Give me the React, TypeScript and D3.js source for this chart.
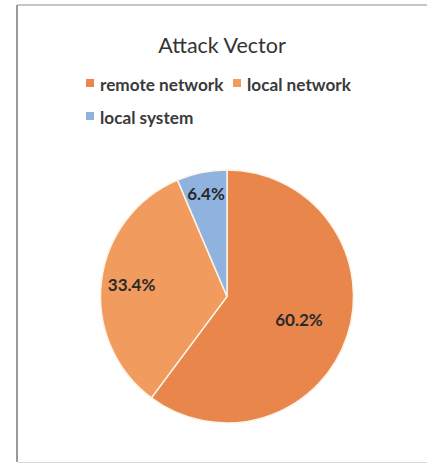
import React from "react";
import * as d3 from "d3";

const categories = ["remote network", "local network", "local system"];
const values = [60.2, 33.4, 6.4];
const labels = ["60.2%", "33.4%", "6.4%"];
const colors = ["#E8864C", "#F29B5E", "#8FB3DE"];

const W = 427;
const H = 465;
const cx = 227;
const cy = 296.5;
const R = 126.5;
const labelFactors = [0.6, 0.76, 0.83];

export default function App() {
  const pie = d3.pie<number>().sort(null).value((d) => d);
  const arcs = pie(values);
  const arc = d3.arc<d3.PieArcDatum<number>>().innerRadius(0).outerRadius(R);
  const font = "Lato, 'Open Sans', sans-serif";

  const legendItems = [
    { x: 86, y: 91 },
    { x: 233, y: 91 },
    { x: 86, y: 124 },
  ];

  return (
    <svg
      width={W}
      height={H}
      style={{ position: "absolute", left: 0, top: 0 }}
      viewBox={`0 0 ${W} ${H}`}
    >
      <rect width={W} height={H} fill="#fff" />
      {/* frame */}
      <line x1={17} y1={5} x2={427} y2={5} stroke="#b5b5b5" strokeWidth={1.5} />
      <line x1={17} y1={5} x2={17} y2={462} stroke="#9a9a9a" strokeWidth={2} />
      <line x1={18} y1={462.5} x2={427} y2={462.5} stroke="#d8d8d8" strokeWidth={1} />

      <text
        x={222}
        y={53}
        textAnchor="middle"
        fontFamily={font}
        fontSize={21.5}
        fill="#333"
      >
        Attack Vector
      </text>

      {categories.map((c, i) => (
        <g key={c}>
          <rect
            x={legendItems[i].x}
            y={legendItems[i].y - 12}
            width={8}
            height={8}
            fill={colors[i]}
          />
          <text
            x={legendItems[i].x + 14}
            y={legendItems[i].y}
            fontFamily={font}
            fontSize={17.2}
            fontWeight={700}
            fill="#3a3a3a"
          >
            {c}
          </text>
        </g>
      ))}

      <g transform={`translate(${cx},${cy})`}>
        {arcs.map((a, i) => (
          <path
            key={i}
            d={arc(a) || ""}
            fill={colors[i]}
            stroke="#fdf3e6"
            strokeWidth={1.5}
          />
        ))}
        {arcs.map((a, i) => {
          const mid = (a.startAngle + a.endAngle) / 2;
          const r = R * labelFactors[i];
          const x = Math.sin(mid) * r;
          const y = -Math.cos(mid) * r;
          return (
            <text
              key={"l" + i}
              x={x}
              y={y}
              dy="0.35em"
              textAnchor="middle"
              fontFamily={font}
              fontSize={17}
              fontWeight={700}
              fill="#2a2a2a"
            >
              {labels[i]}
            </text>
          );
        })}
      </g>
    </svg>
  );
}
